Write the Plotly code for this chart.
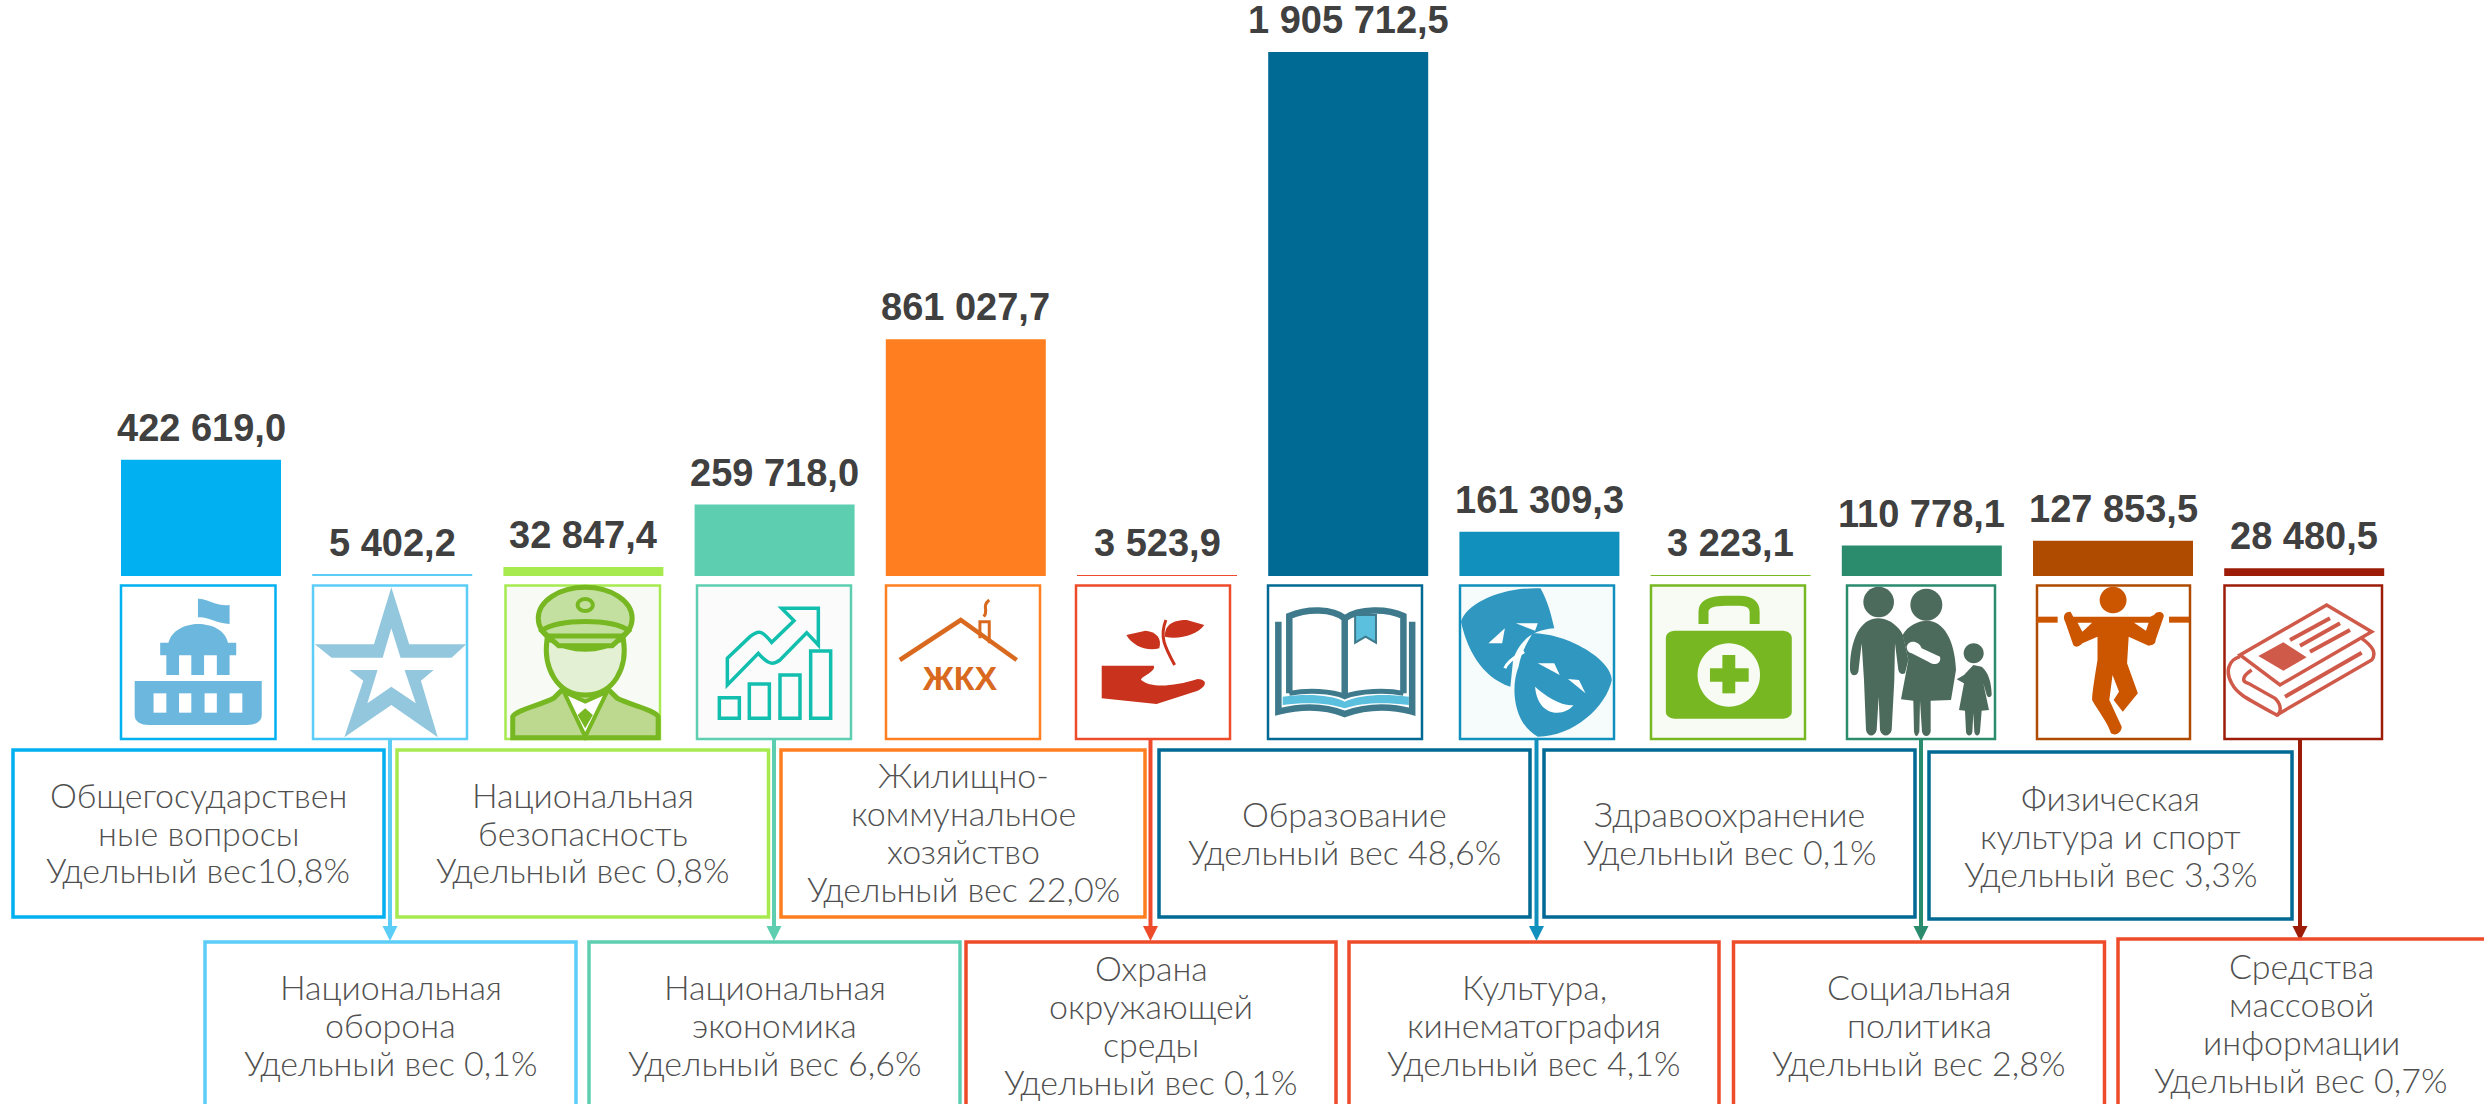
import re
import plotly.graph_objects as go

# ---------- data ----------
categories = ["Общегосударственные вопросы", "Национальная оборона", "Национальная безопасность",
              "Национальная экономика", "Жилищно-коммунальное хозяйство", "Охрана окружающей среды",
              "Образование", "Культура, кинематография", "Здравоохранение",
              "Социальная политика", "Физическая культура и спорт", "Средства массовой информации"]
values = [422619.0, 5402.2, 32847.4, 259718.0, 861027.7, 3523.9,
          1905712.5, 161309.3, 3223.1, 110778.1, 127853.5, 28480.5]
bar_colors = ["#00B0F0", "#5BCDF7", "#A6EA50", "#5DCEB0", "#FF7F20", "#EE4B2B",
              "#006A94", "#118FBD", "#77B822", "#2A8B6D", "#AF4B00", "#9C1C08"]
box_texts = [
    "Общегосударствен<br>ные вопросы<br>Удельный вес10,8%",
    "Национальная<br>оборона<br>Удельный вес 0,1%",
    "Национальная<br>безопасность<br>Удельный вес 0,8%",
    "Национальная<br>экономика<br>Удельный вес 6,6%",
    "Жилищно-<br>коммунальное<br>хозяйство<br>Удельный вес 22,0%",
    "Охрана<br>окружающей<br>среды<br>Удельный вес 0,1%",
    "Образование<br>Удельный вес 48,6%",
    "Культура,<br>кинематография<br>Удельный вес 4,1%",
    "Здравоохранение<br>Удельный вес 0,1%",
    "Социальная<br>политика<br>Удельный вес 2,8%",
    "Физическая<br>культура и спорт<br>Удельный вес 3,3%",
    "Средства<br>массовой<br>информации<br>Удельный вес 0,7%",
]
label_texts = [f"{v:,.1f}".replace(",", " ").replace(".", ",") for v in values]

# ---------- layout constants (pixels) ----------
W, H = 2484, 1104
BASE_Y, TOP_Y = 576, 52
LEFT, STEP = 105.4, 191.2
LINE = 38
icon_boxes = [(121, 275.5), (313, 467), (505.5, 660), (697, 851), (886, 1040), (1076, 1230),
              (1268, 1422), (1460, 1614), (1651, 1805), (1847, 1995), (2037, 2190), (2224.5, 2382)]
icon_fill = {2: "#F8FBF5", 3: "#FBFBFB", 7: "#F6FBFC", 8: "#F8FBF4"}
# text boxes: x0, x1, y0, y1, border colour, text centre y
blue, red = "#006A94", "#EE4B2B"
text_boxes = [
    (13, 384, 750, 917, "#00B0F0", 832), (205, 576, 942, 1110, "#5BCDF7", 1024),
    (397, 768.5, 750, 917, "#A6EA50", 832), (589, 960, 942, 1110, "#5DCEB0", 1024),
    (781, 1145, 750, 917, "#FF7F20", 831), (966, 1336, 942, 1110, red, 1024),
    (1159, 1530, 750, 917, blue, 832), (1349, 1719, 942, 1110, red, 1024),
    (1544, 1915, 750, 917, blue, 832), (1733.5, 2104.5, 942, 1110, red, 1024),
    (1929, 2292, 752, 919, blue, 835), (2118, 2490, 939, 1110, red, 1022),
]
arrow_x = [390, 774, 1150.5, 1536.5, 1921, 2300]
arrow_colors = ["#5BCDF7", "#5DCEB0", "#EE4B2B", "#118FBD", "#2A8B6D", "#9C1C08"]

Z1 = (0, 380, 1.96, 3)
Z4 = (800, 480, 1.823, 3)
Z5 = (1640, 480, 1.858, 3)
Z6 = (690, 580, 3, 3)
Z7 = (1840, 580, 3, 3)
Z8 = (2220, 580, 3, 3)
PX = (0, 0, 1, 1)

shapes = []


def conv(z, d):
    ox, oy, sx, sy = z
    out, isx = [], True
    for t in d.split():
        if re.match(r"^[A-Za-z]$", t):
            out.append(t)
            isx = True
        else:
            v = float(t)
            if isx:
                out.append(f"{(ox + v / sx) / W:.5f}")
            else:
                out.append(f"{1 - (oy + v / sy) / H:.5f}")
            isx = not isx
    return " ".join(out)


def path(z, d, fill=None, color=None, width=0):
    s = dict(type="path", path=conv(z, d), xref="paper", yref="paper", layer="above",
             line=dict(color=color or "rgba(0,0,0,0)", width=width))
    s["fillcolor"] = fill if fill else "rgba(0,0,0,0)"
    shapes.append(s)


def ell(z, cx, cy, rx, ry, fill=None, color=None, width=0):
    k = 0.5523
    d = (f"M {cx-rx} {cy} C {cx-rx} {cy-k*ry} {cx-k*rx} {cy-ry} {cx} {cy-ry} "
         f"C {cx+k*rx} {cy-ry} {cx+rx} {cy-k*ry} {cx+rx} {cy} "
         f"C {cx+rx} {cy+k*ry} {cx+k*rx} {cy+ry} {cx} {cy+ry} "
         f"C {cx-k*rx} {cy+ry} {cx-rx} {cy+k*ry} {cx-rx} {cy} Z")
    path(z, d, fill, color, width)


def rect(z, x0, y0, x1, y1, fill=None, color=None, width=0):
    path(z, f"M {x0} {y0} L {x1} {y0} L {x1} {y1} L {x0} {y1} Z", fill, color, width)


# icon frames
for i, (x0, x1) in enumerate(icon_boxes):
    rect(PX, x0, 585.5, x1, 739, icon_fill.get(i, "#FFFFFF"), bar_colors[i], 2.5)

# arrows drawn first, under the text boxes' borders
for x, c in zip(arrow_x, arrow_colors):
    path(PX, f"M {x} 740 L {x} 930", None, c, 4)
    path(PX, f"M {x-7.5} 926 L {x+7.5} 926 L {x} 941 Z", c, c, 0)

# text boxes
for x0, x1, y0, y1, c, _ in text_boxes:
    rect(PX, x0, y0, x1, y1, None, c, 3.5)

# icon 1: capitol
c = "#6BB7DD"
path(Z1, "M 264 903 L 513 903 L 513 1005 C 513 1025 500 1035 485 1035 L 292 1035 C 275 1035 264 1025 264 1005 Z", c)
for a, b in [(301, 326), (351, 375), (401, 425), (450, 475)]:
    rect(Z1, a, 940, b, 998, "#FFFFFF")
for a, b in [(326, 351), (375, 400), (425, 450)]:
    rect(Z1, a, 825, b, 885, c)
rect(Z1, 314, 788, 463, 826, c)
path(Z1, "M 330 790 C 335 750 365 732 388 732 C 415 732 442 750 447 790 Z", c)
path(Z1, "M 388 656 C 405 655 425 680 450 675 L 450 732 C 425 730 405 708 388 712 Z", c)

# icon 2: star
c = "#92C7DE"
path(Z1, "M 767 622 L 733 793 L 617 793 L 650 833 L 750 833 L 767 745 L 785 833 L 885 833 L 914 793 L 802 793 Z", c)
path(Z1, "M 685 870 L 740 870 L 720 970 L 767 920 L 815 970 L 793 870 L 850 870 L 825 902 L 858 1072 L 767 975 L 675 1072 L 712 902 Z", c)

# icon 3: officer
g = "#77B822"
path(Z1, "M 1005 1073 L 1005 1010 C 1010 990 1060 975 1085 955 L 1105 925 L 1190 925 L 1210 955 C 1235 975 1285 990 1290 1010 L 1290 1073 Z", "#BCD98F", g, 5)
path(Z1, "M 1105 935 L 1147 1070 L 1190 935 L 1147 965 Z", "#FFFFFF", g, 4)
path(Z1, "M 1147 985 L 1162 1005 L 1147 1045 L 1132 1005 Z", g)
path(Z1, "M 1072 780 C 1065 860 1090 945 1147 945 C 1205 945 1230 860 1222 780 Z", "#E4F0D4", g, 5)
ell(Z1, 1147, 715, 92, 93, "#C4E0A0", g, 5)
path(Z1, "M 1062 752 C 1090 715 1205 715 1232 752 L 1200 797 L 1095 797 Z", "#C4E0A0", g, 5)
path(Z1, "M 1075 768 L 1220 768", None, g, 5)
ell(Z1, 1147, 675, 15, 18, "#C4E0A0", g, 4)

# icon 4: growth chart
c = "#12BFAE"
path(Z6, "M 112 315 L 112 235 L 180 170 C 205 150 215 150 245 187 L 312 122 L 275 85 L 385 85 L 385 195 L 350 158 L 270 240 C 250 255 235 255 205 220 Z", None, c, 3.5)
for a, b, cc, d in [(88, 353, 148, 415), (178, 312, 238, 415), (270, 285, 330, 415), (362, 213, 422, 415)]:
    rect(Z6, a, b, cc, d, None, c, 3.5)

# icon 5: house
c = "#D9691E"
path(Z4, "M 182 540 L 293 420 L 395 540", None, c, 4.5)
path(Z4, "M 328 475 L 328 425 L 345 425 L 345 490", None, c, 3)
path(Z4, "M 345 360 C 330 380 345 390 335 410", None, c, 3)

# icon 6: hand and sprout
c = "#C9321C"
path(Z4, "M 550 557 L 645 557 C 650 575 620 590 622 600 C 640 625 680 620 725 597 C 745 600 740 620 725 632 L 650 672 L 550 655 Z", c)
path(Z4, "M 667 420 C 655 470 665 500 683 555", None, c, 3)
path(Z4, "M 595 465 L 630 452 C 650 455 660 475 655 505 C 630 515 605 495 595 465 Z", c)
path(Z4, "M 665 470 C 665 440 675 420 705 420 L 737 435 C 725 465 690 480 665 470 Z", c)

# icon 7: book
d_, l_ = "#3F7A8C", "#5BC0DE"
path(Z4, "M 880 650 C 925 640 970 645 993 665 C 1020 645 1060 640 1110 650 L 1110 675 C 1060 665 1020 670 993 685 C 965 670 925 665 880 675 Z", l_)
path(Z4, "M 892 640 L 892 408 C 925 385 970 385 993 415 L 993 650", None, d_, 6.5)
path(Z4, "M 993 415 C 1020 385 1070 385 1100 408 L 1100 640", None, d_, 6.5)
path(Z4, "M 892 640 C 925 630 970 632 993 650 C 1020 632 1070 630 1100 640", None, d_, 5)
path(Z4, "M 872 425 L 872 695 C 920 675 960 680 993 702 C 1030 680 1070 675 1116 695 L 1116 425", None, d_, 6.5)
path(Z4, "M 1012 405 L 1050 405 L 1050 488 L 1031 470 L 1012 488 Z", l_, d_, 2)

# icon 8: theatre masks
c = "#3098C0"
path(Z4, "M 1205 425 C 1215 370 1280 320 1350 325 C 1365 370 1370 410 1375 445 C 1330 450 1310 490 1300 540 L 1295 620 C 1240 590 1215 500 1205 425 Z", c)
path(Z4, "M 1335 460 C 1400 460 1480 540 1480 600 C 1470 680 1410 770 1345 770 C 1300 730 1295 620 1310 560 C 1315 510 1330 480 1335 460 Z", c)
path(Z4, "M 1255 490 L 1285 445 L 1280 490 Z", "#FFFFFF")
path(Z4, "M 1305 430 L 1345 430 L 1340 452 Z", "#FFFFFF")
path(Z4, "M 1285 565 C 1290 540 1310 525 1320 515", None, "#FFFFFF", 3)
path(Z4, "M 1345 550 L 1375 550 L 1385 585 Z", "#FFFFFF")
path(Z4, "M 1400 597 L 1420 600 L 1432 640 Z", "#FFFFFF")
path(Z4, "M 1340 620 C 1360 650 1390 680 1410 675 C 1395 710 1345 715 1340 620 Z", "#FFFFFF")

# icon 9: first aid kit
path(Z5, "M 118 432 L 118 395 C 118 370 135 362 160 362 L 185 362 C 205 362 213 375 213 395 L 213 432", None, g, 10)
path(Z5, "M 68 452 L 262 452 C 275 452 282 460 282 475 L 282 695 C 282 708 275 716 262 716 L 68 716 C 55 716 48 708 48 695 L 48 475 C 48 460 55 452 68 452 Z", g)
ell(Z5, 165, 585, 58, 95, "#F8FBF4")
rect(Z5, 153, 525, 177, 640, g)
rect(Z5, 130, 565, 202, 605, g)

# icon 10: family
c = "#4D6B5D"
ell(Z7, 116, 66, 46, 46, c)
ell(Z7, 259, 74, 48, 48, c)
ell(Z7, 401, 220, 30, 30, c)
path(Z7, "M 30 270 C 30 180 60 115 115 115 C 160 115 190 160 190 170 L 205 240 L 195 280 C 185 285 178 280 175 270 L 165 190 L 163 300 L 155 450 C 150 472 125 472 120 450 L 116 350 L 110 450 C 105 472 82 472 78 450 L 72 300 L 65 190 L 55 275 C 50 290 32 290 30 270 Z", c)
path(Z7, "M 188 165 C 205 135 235 122 262 122 C 310 122 345 180 348 270 L 333 360 L 272 362 L 272 455 C 268 472 250 472 246 455 L 240 362 L 238 455 C 232 472 226 472 222 455 L 220 362 L 183 358 L 205 240 Z", c)
path(Z7, "M 335 285 L 350 298 L 372 285 L 400 255 L 425 260 C 445 275 455 310 455 345 C 450 355 442 352 440 345 L 430 310 L 447 390 L 425 392 L 420 455 C 418 470 405 470 403 455 L 400 400 L 397 455 C 395 470 380 470 378 455 L 375 392 L 357 390 L 372 310 L 350 298 Z", c)
path(Z7, "M 200 200 C 205 180 235 180 245 205 L 300 230 C 305 250 285 260 265 245 L 215 220 C 205 218 200 210 200 200 Z", "#FFFFFF")

# icon 11: figure on bar
c = "#CC5500"
ell(Z5, 879, 360, 25, 40, c)
rect(Z5, 737, 410, 776, 428, c)
rect(Z5, 983, 410, 1020, 428, c)
path(Z5, "M 800 395 C 788 395 785 410 790 425 L 805 495 C 810 505 818 498 822 490 L 850 470 L 850 540 C 845 590 840 640 840 660 C 850 690 870 730 875 760 C 885 770 895 755 895 740 L 872 660 L 878 585 L 890 635 L 880 660 L 897 695 L 925 640 L 905 550 L 908 470 L 945 497 C 955 495 958 490 958 480 L 973 410 C 975 395 960 390 955 405 L 948 410 L 805 410 Z", c)
path(Z5, "M 813 428 L 840 428 L 822 455 Z", "#FFFFFF")
path(Z5, "M 918 428 L 945 428 L 940 452 Z", "#FFFFFF")

# icon 12: newspaper
c = "#D05A4A"
path(Z8, "M 320 75 L 60 225 L 180 315 L 455 155 Z", None, c, 3.5)
path(Z8, "M 60 230 C 25 240 15 275 35 310 C 50 340 70 350 170 405 L 455 240 C 470 220 460 200 425 175", None, c, 3.5)
path(Z8, "M 95 270 C 65 290 65 305 85 310 L 165 355 C 185 375 185 395 170 408", None, c, 3.5)
path(Z8, "M 195 350 L 425 218", None, c, 4)
path(Z8, "M 210 180 L 330 115", None, c, 4)
path(Z8, "M 240 197 L 360 130", None, c, 4)
path(Z8, "M 270 215 L 390 150", None, c, 4)
path(Z8, "M 115 228 L 190 187 L 260 232 L 190 272 Z", c)

# ---------- figure ----------
y_per_px = values[6] / (BASE_Y - TOP_Y)
fig = go.Figure(go.Bar(x=categories, y=values, marker=dict(color=bar_colors, line=dict(width=0)),
                       hoverinfo="x+y"))

annotations = []
for cat, v, t in zip(categories, values, label_texts):
    annotations.append(dict(x=cat, y=v, xref="x", yref="y", text=f"<b>{t}</b>", showarrow=False,
                            yanchor="bottom", xanchor="center", yshift=9,
                            font=dict(family="Liberation Sans", size=38, color="#404040")))
for (x0, x1, y0, y1, c, cy), t in zip(text_boxes, box_texts):
    lines = t.split("<br>")
    for k, ln in enumerate(lines):
        ly = cy + (k - (len(lines) - 1) / 2) * LINE
        annotations.append(dict(x=((x0 + min(x1, W)) / 2) / W, y=1 - ly / H, xref="paper", yref="paper", text=ln,
                                showarrow=False, xanchor="center", yanchor="middle", align="center",
                                font=dict(family="Lato", size=34, color="#505050", weight=300)))
annotations.append(dict(x=959.5 / W, y=1 - 678 / H, xref="paper", yref="paper", text="<b>ЖКХ</b>", showarrow=False,
                        font=dict(family="Liberation Sans", size=34, color="#D9691E")))

fig.update_layout(
    width=W, height=H, margin=dict(l=0, r=0, t=0, b=0, pad=0),
    paper_bgcolor="#FFFFFF", plot_bgcolor="#FFFFFF", showlegend=False,
    bargap=1 - 160 / STEP,
    xaxis=dict(domain=[LEFT / W, (LEFT + 12 * STEP) / W], range=[-0.5, 11.5], visible=False,
               type="category", categoryorder="array", categoryarray=categories),
    yaxis=dict(domain=[1 - BASE_Y / H, 1], range=[0, BASE_Y * y_per_px], visible=False),
    shapes=shapes, annotations=annotations,
)
fig.write_html("out.html", config=dict(displayModeBar=False),
               post_script="document.body.style.margin='0';document.body.style.overflow='hidden';")
